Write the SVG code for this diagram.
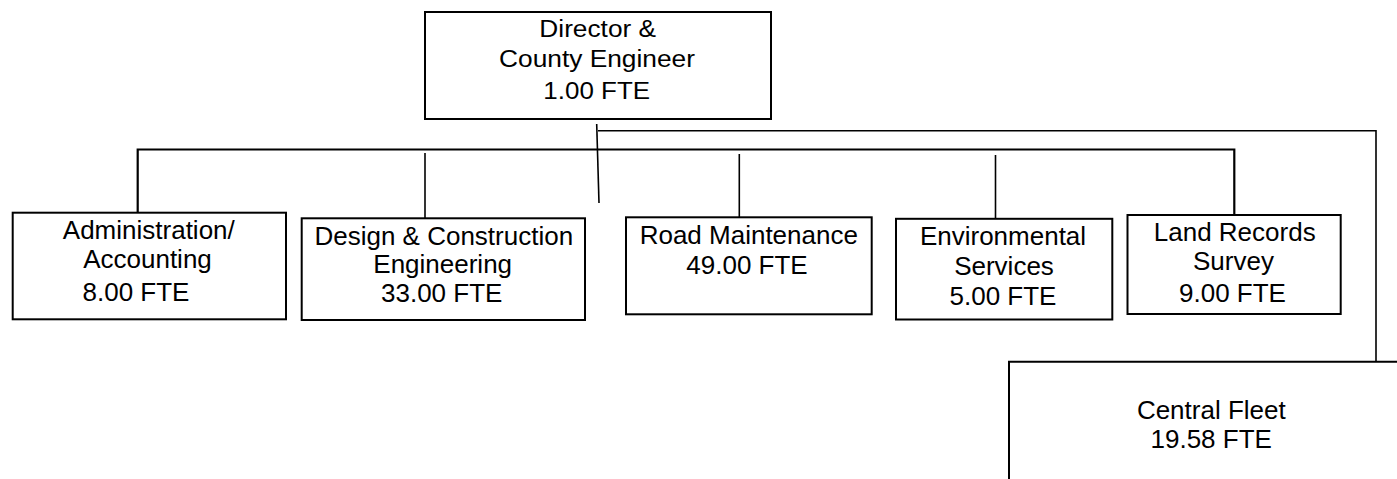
<svg xmlns="http://www.w3.org/2000/svg" width="1397" height="479" viewBox="0 0 1397 479">
<style>
.box{fill:#fff;stroke:#000;stroke-width:2}
.t{font-family:"Liberation Sans",Arial,sans-serif;font-size:26px;fill:#000;text-anchor:middle}
.d{font-size:23px}
.c{stroke:#000;stroke-width:1.6;fill:none}
.m{stroke:#000;stroke-width:2.2;fill:none}
</style>
<rect width="1397" height="479" fill="#fff"/>
<g id="connectors">
<path class="c" d="M596.7 124 L599 203"/>
<path class="c" d="M598 130.7 H1376 V362.7"/>
<path class="m" d="M137.7 212.7 V149.5 H1234.3 V215"/>
<path class="c" d="M425 153 V218.3"/>
<path class="c" d="M739.3 154 V217.3"/>
<path class="c" d="M995.5 155 V218.3"/>
</g>
<g id="director">
<rect class="box" x="425" y="12" width="346" height="107"/>
<text class="t d" x="597.7" y="36.7" textLength="116.7" lengthAdjust="spacingAndGlyphs">Director &amp;</text>
<text class="t d" x="597" y="66.7" textLength="196" lengthAdjust="spacingAndGlyphs">County Engineer</text>
<text class="t d" x="596.7" y="99" textLength="106.7" lengthAdjust="spacingAndGlyphs">1.00 FTE</text>
</g>
<g id="admin">
<rect class="box" x="12.7" y="212.7" width="273.3" height="106.6"/>
<text class="t" x="148.8" y="239.3">Administration/</text>
<text class="t" x="147.5" y="267.7">Accounting</text>
<text class="t" x="136" y="300.7">8.00 FTE</text>
</g>
<g id="design">
<rect class="box" x="301.7" y="218.3" width="283.3" height="101.7"/>
<text class="t" x="443.8" y="245">Design &amp; Construction</text>
<text class="t" x="442.7" y="272.7">Engineering</text>
<text class="t" x="441.7" y="301.7">33.00 FTE</text>
</g>
<g id="road">
<rect class="box" x="626" y="217.3" width="245.7" height="97"/>
<text class="t" x="748.8" y="244.3">Road Maintenance</text>
<text class="t" x="747" y="274">49.00 FTE</text>
</g>
<g id="environmental">
<rect class="box" x="896" y="218.8" width="216.3" height="100.7"/>
<text class="t" x="1003" y="245">Environmental</text>
<text class="t" x="1004" y="275">Services</text>
<text class="t" x="1003" y="304.5">5.00 FTE</text>
</g>
<g id="land">
<rect class="box" x="1127.5" y="215" width="213.2" height="99"/>
<text class="t" x="1234.7" y="240.7">Land Records</text>
<text class="t" x="1233.5" y="270">Survey</text>
<text class="t" x="1232.5" y="301.7">9.00 FTE</text>
</g>
<g id="fleet">
<path class="box" d="M1009 479 V361.7 H1400" fill="none"/>
<text class="t" x="1211.3" y="419.3">Central Fleet</text>
<text class="t" x="1211.2" y="448.3">19.58 FTE</text>
</g>
</svg>
